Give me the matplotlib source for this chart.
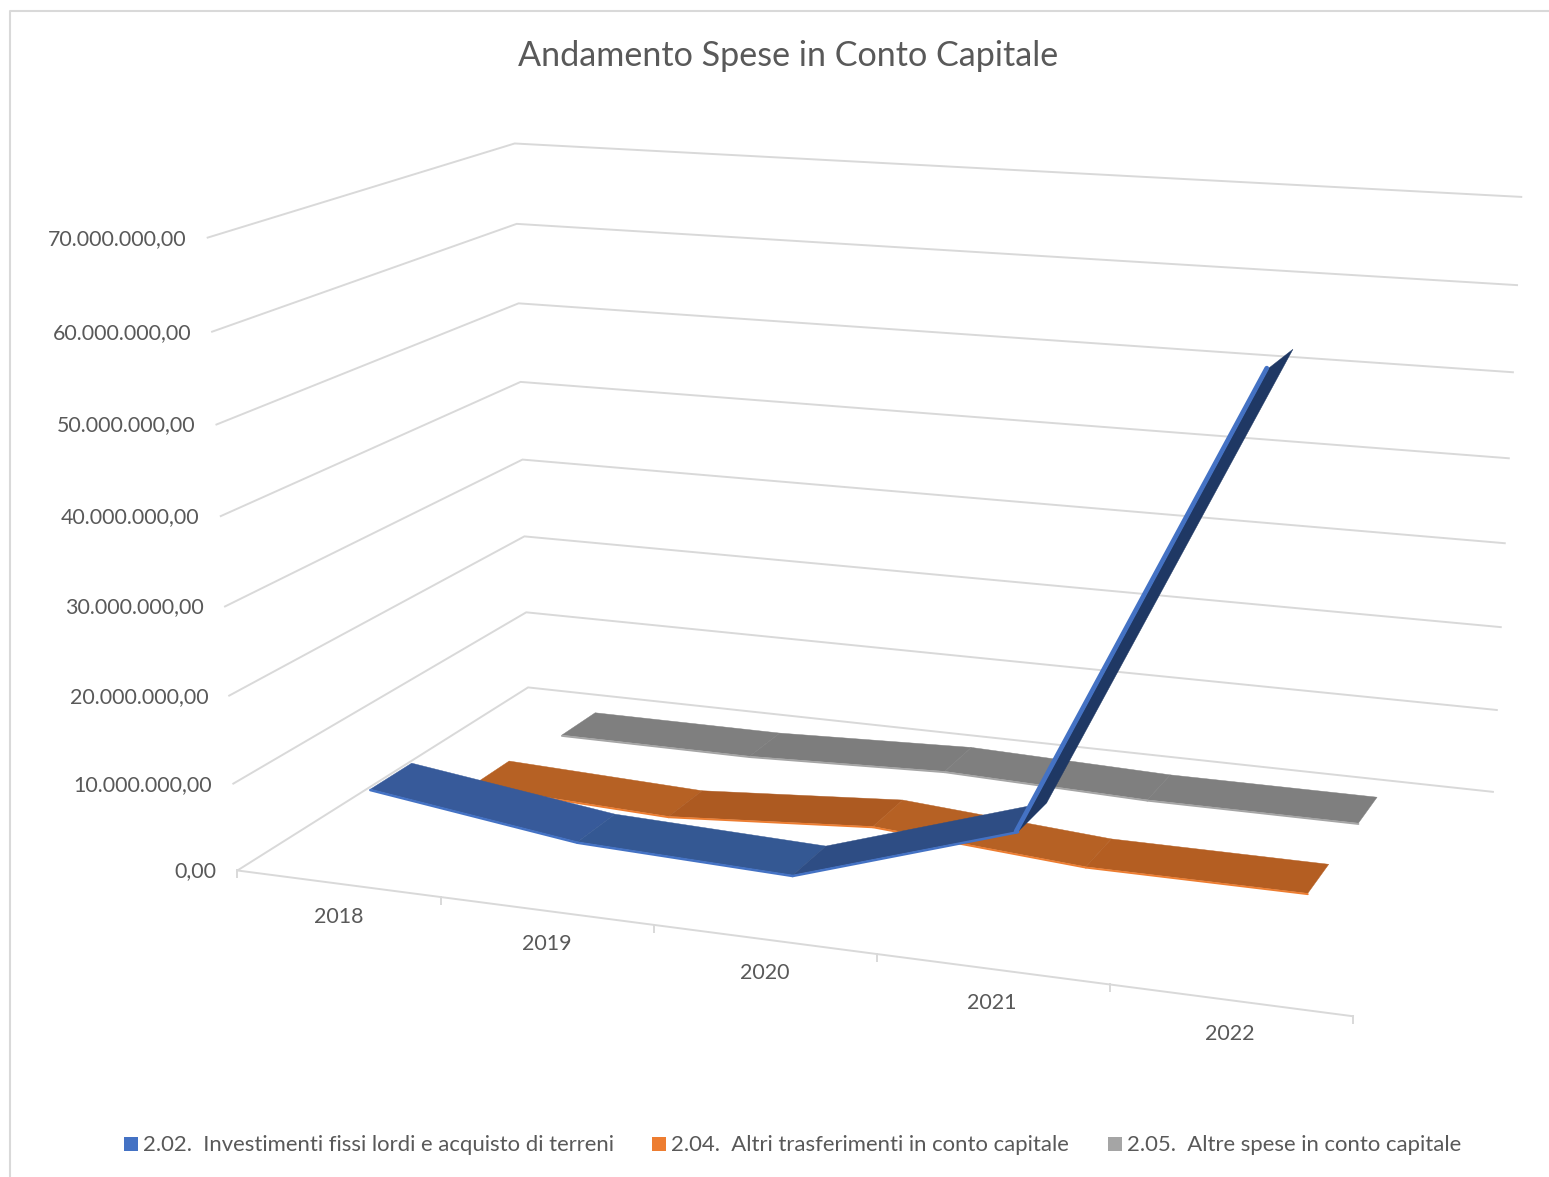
import matplotlib
matplotlib.use('Agg')
import matplotlib.pyplot as plt
from matplotlib.patches import Polygon, Rectangle
import numpy as np

plt.rcParams['font.family'] = ['Lato', 'DejaVu Sans']

# Data
years = ['2018', '2019', '2020', '2021', '2022']
investimenti = [8450000, 5300000, 4550000, 12350000, 62500000]
trasferimenti = [1200000, 300000, 2000000, 250000, 250000]
altre_spese = [50000, 50000, 900000, 200000, 250000]
y_ticks = [0, 10000000, 20000000, 30000000, 40000000, 50000000, 60000000, 70000000]
y_labels = ['0,00', '10.000.000,00', '20.000.000,00', '30.000.000,00',
            '40.000.000,00', '50.000.000,00', '60.000.000,00', '70.000.000,00']
series_names = ['2.02.  Investimenti fissi lordi e acquisto di terreni',
                '2.04.  Altri trasferimenti in conto capitale',
                '2.05.  Altre spese in conto capitale']

# Perspective of the 3D box: (category, depth, value in 10M) -> pixels
front_left = [(239, 870), (234, 783), (229, 695), (225, 606), (220, 516), (216, 424), (212, 331), (207, 238)]
back_left = [(527, 688), (525, 612), (524, 536), (523, 459), (521, 382), (519, 304), (517, 224), (515, 144)]
back_right = [(1493, 791), (1497, 710), (1501, 627), (1505, 543), (1509, 458), (1513, 373), (1517, 285), (1521, 197)]
front_floor = [(0.2, 442, 898), (0.4, 655, 927), (0.6, 877, 955), (0.8, 1108, 985), (1, 1353, 1015)]

calib = []
for h in range(8):
    calib.append((0, 0, h) + front_left[h])
    calib.append((0, 1, h) + back_left[h])
    calib.append((1, 1, h) + back_right[h])
for u, x, y in front_floor:
    calib.append((u, 0, 0, x, y))
A = []
b = []
for u, d, h, x, y in calib:
    A.append([u, d, h, 1, 0, 0, 0, 0, -x * u, -x * d, -x * h])
    b.append(x)
    A.append([0, 0, 0, 0, u, d, h, 1, -y * u, -y * d, -y * h])
    b.append(y)
coef = np.linalg.lstsq(np.array(A, float), np.array(b, float), rcond=None)[0]
P = np.append(coef, 1).reshape(3, 4)


def proj(u, d, value):
    w = P @ np.array([u, d, value / 1e7, 1.0])
    return w[0] / w[2], w[1] / w[2]


fig = plt.figure(figsize=(15.49, 11.77), dpi=100)
ax = fig.add_axes([0, 0, 1, 1])
ax.set_xlim(0, 1549)
ax.set_ylim(1177, 0)
ax.axis('off')

# chart border
ax.plot([10.5, 10.5, 1549], [1177, 11, 11], color='#d9d9d9', lw=1.5)

grid = '#d9d9d9'
text_col = '#595959'

# walls and floor edge
for v, lab in zip(y_ticks, y_labels):
    pts = [proj(0, 0, v), proj(0, 1, v), proj(1, 1, v)]
    ax.plot(*zip(*pts), color=grid, lw=1.4, solid_joinstyle='miter', zorder=0.5)
    ax.text(pts[0][0] - 21, pts[0][1] + 1, lab, ha='right', va='center', fontsize=15.4, color=text_col)
ax.plot(*zip(proj(0, 0, 0), proj(1, 0, 0)), color=grid, lw=1.4, zorder=0.5)
for k in range(6):
    x0, y0 = proj(k / 5, 0, 0)
    ax.plot([x0, x0], [y0, y0 + 7], color=grid, lw=1.4, zorder=0.5)
for k, yr in enumerate(years):
    x0, y0 = proj((k + 0.5) / 5, 0, 0)
    ax.text(x0, y0 + 33.5, yr, ha='center', va='center', fontsize=15.4, color=text_col)


def ribbon(values, d0, d1, faces, edge, widths, shifts, z):
    n = len(values)
    nudge = 2.5  # ribbons sit a little right of the fitted box
    for i in range(n - 1):
        u0 = (i + 0.5) / n
        u1 = (i + 1.5) / n
        quad = [proj(u0, d0, values[i]), proj(u1, d0, values[i + 1]),
                proj(u1, d1, values[i + 1]), proj(u0, d1, values[i])]
        quad = [(x + nudge, y) for x, y in quad]
        ax.add_patch(Polygon(quad, closed=True, facecolor=faces[i], edgecolor=faces[i], lw=0.3, zorder=z))
    for i in range(n - 1):
        u0 = (i + 0.5) / n
        u1 = (i + 1.5) / n
        xa, ya = proj(u0, d0, values[i])
        xb, yb = proj(u1, d0, values[i + 1])
        dx, dy = shifts[i]
        ax.plot([xa + nudge + dx, xb + nudge + dx], [ya + dy, yb + dy], color=edge, lw=widths[i],
                solid_capstyle='round', zorder=z + 0.1)


# back to front
flat = [(0, 0.8)] * 4
ribbon(altre_spese, 0.7667, 0.9, ['#7f7f7f', '#7d7d7d', '#7f7f7f', '#7f7f7f'], '#a5a5a5', [1.4] * 4, flat, 2)
ribbon(trasferimenti, 0.4333, 0.5667, ['#b66124', '#ad5a21', '#b66124', '#b45e22'], '#ed7d31', [1.4] * 4, flat, 3)
ribbon(investimenti, 0.1, 0.2333, ['#375a9a', '#345893', '#2e4d84', '#1f3864'], '#4472c4',
       [1.8, 1.8, 1.8, 3.4], [(0, 0.8), (0, 0.8), (0, 0.8), (-2, 0)], 4)

ax.text(788, 56, 'Andamento Spese in Conto Capitale', ha='center', va='center', fontsize=24.6, color=text_col)

# legend
leg_squares = [124, 652, 1108]
leg_cols = ['#4472c4', '#ed7d31', '#a5a5a5']
for x0, c, name in zip(leg_squares, leg_cols, series_names):
    ax.add_patch(Rectangle((x0, 1137), 14, 14, facecolor=c, edgecolor='none'))
    ax.text(x0 + 19, 1145, name, ha='left', va='center', fontsize=15.9, color=text_col)

fig.savefig('out.png', dpi=100)
